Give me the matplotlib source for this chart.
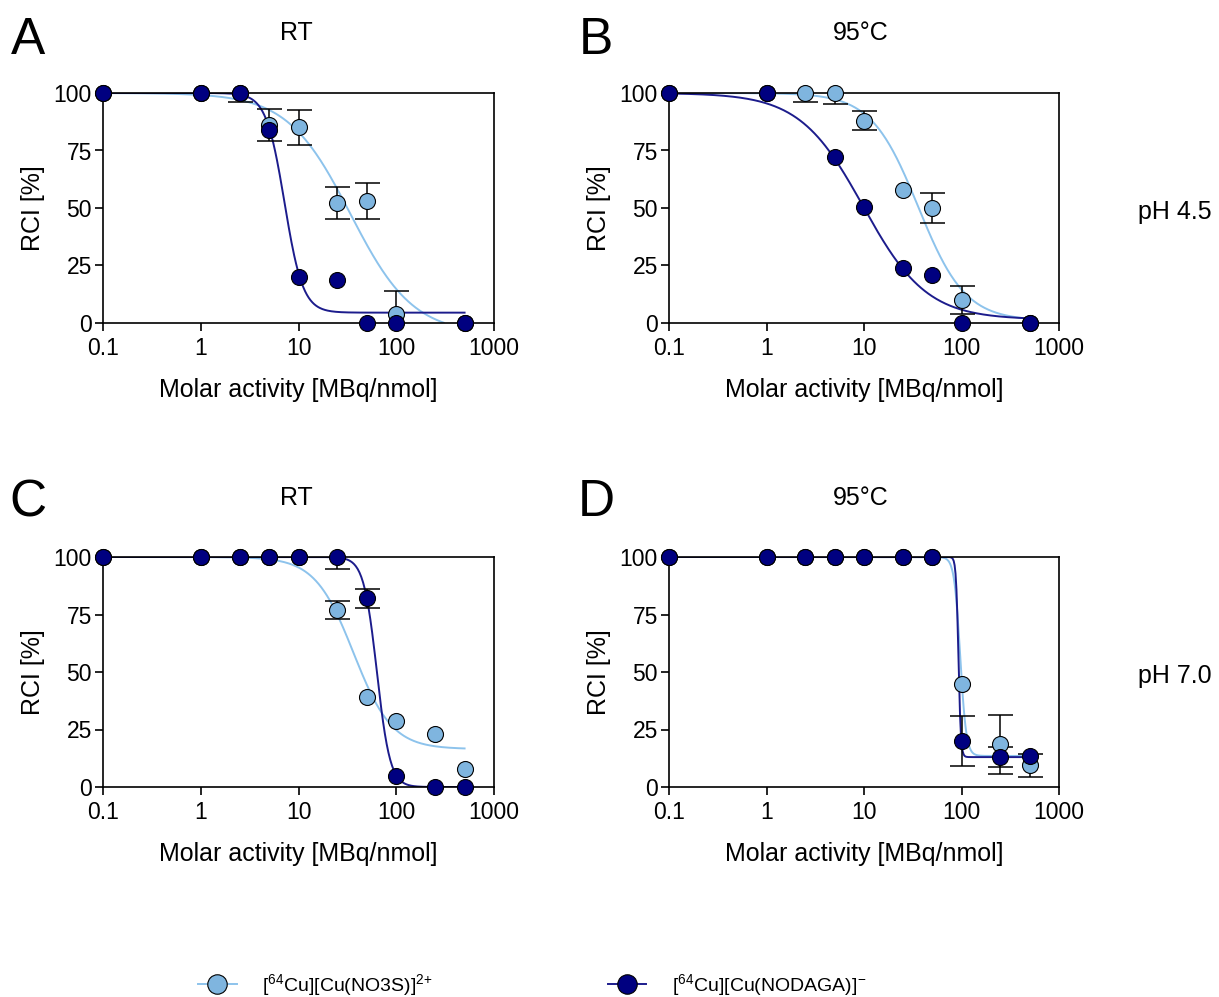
import numpy as np
import matplotlib
matplotlib.use("Agg")
import matplotlib.pyplot as plt
from matplotlib.lines import Line2D

plt.rcParams["font.family"] = ["Liberation Sans", "DejaVu Sans"]
plt.rcParams["mathtext.default"] = "regular"

# molar activity [MBq/nmol]
conc = [0.1, 1, 2.5, 5, 10, 25, 50, 100, 250, 500]
nan = np.nan

# panel A: RT, pH 4.5
a_no3s = [100, 100, 100, 86, 85, 52, 53, 4, nan, 0]
a_no3s_err = [0, 0, 4, 7, 7.5, 7, 8, 10, nan, 0]
a_nodaga = [100, 100, 100, 84, 20, 18.5, 0, 0, nan, 0]
a_nodaga_err = [0, 0, 0, 0, 0, 0, 0, 0, nan, 0]

# panel B: 95°C, pH 4.5
b_no3s = [100, 100, 100, 100, 88, 58, 50, 10, nan, 0]
b_no3s_err = [0, 0, 4, 5, 4.3, 0, 6.5, 6, nan, 0]
b_nodaga = [100, 100, nan, 72, 50.5, 24, 21, 0, nan, 0]
b_nodaga_err = [0, 0, nan, 0, 0, 0, 0, 0, nan, 0]

# panel C: RT, pH 7.0
c_no3s = [100, 100, 100, 100, 100, 77, 39, 28.5, 23, 8]
c_no3s_err = [0, 0, 0, 0, 0, 3.9, 0, 0, 0, 0]
c_nodaga = [100, 100, 100, 100, 100, 100, 82, 5, 0, 0]
c_nodaga_err = [0, 0, 0, 0, 0, 5, 4, 0, 0, 0]

# panel D: 95°C, pH 7.0
d_no3s = [100, 100, 100, 100, 100, 100, 100, 45, 18.5, 9.5]
d_no3s_err = [0, 0, 0, 0, 0, 0, 0, 0, 13, 5]
d_nodaga = [100, 100, 100, 100, 100, 100, 100, 20, 13, 13.5]
d_nodaga_err = [0, 0, 0, 0, 0, 0, 0, 11, 4.5, 0]

# fitted curves (top, bottom, EC50, hill)
a_no3s_fit = (100, -5, 33.9, 1.35)
a_nodaga_fit = (100, 4.5, 7.2, 4.6)
b_no3s_fit = (100, 1, 36, 1.8)
b_nodaga_fit = (100, 1.5, 9.8, 1.33)
c_no3s_fit = (100, 16.5, 36.6, 2.2)
c_nodaga_fit = (100, 0, 63.4, 6.4)
d_no3s_fit = (100, 13.5, 97, 14)
d_nodaga_fit = (100, 13, 93, 35)

light_fill = "#7FB5DF"
light_line = "#8DC3EC"
dark_fill = "#000080"
dark_line = "#1C1C8C"


def logistic(x, top, bottom, ec50, hill):
    return bottom + (top - bottom) / (1 + (x / ec50) ** hill)


def draw_series(ax, y, err, fit, fill, line):
    xs = np.logspace(-1, np.log10(500), 400)
    ys = logistic(xs, *fit)
    ys = np.where(ys < 0, np.nan, ys)
    ax.plot(xs, ys, color=line, lw=1.4, zorder=2)
    # only points that have an error bar
    ex = [c for c, e in zip(conc, err) if e > 0]
    ey = [v for v, e in zip(y, err) if e > 0]
    ee = [e for e in err if e > 0]
    ax.errorbar(ex, ey, yerr=ee, fmt="none", ecolor="black", elinewidth=1.1,
                capsize=9, capthick=1.1, zorder=3)
    ax.plot(conc, y, "o", ms=11.5, mfc=fill, mec="black", mew=0.8,
            ls="none", clip_on=False, zorder=4)


def setup_axes(ax):
    ax.set_xscale("log")
    ax.set_xlim(0.1, 1000)
    ax.set_ylim(0, 100)
    ax.set_xticks([0.1, 1, 10, 100, 1000])
    ax.set_xticklabels(["0.1", "1", "10", "100", "1000"])
    ax.xaxis.set_minor_locator(matplotlib.ticker.NullLocator())
    ax.set_yticks([0, 25, 50, 75, 100])
    ax.tick_params(axis="both", labelsize=16.5, length=6, width=1.2,
                   direction="out", pad=2)
    ax.tick_params(axis="x", pad=4)
    for s in ax.spines.values():
        s.set_linewidth(1.2)
    ax.set_ylabel("RCI [%]", fontsize=18, labelpad=6)
    ax.set_xlabel("Molar activity [MBq/nmol]", fontsize=18, labelpad=13)


fig = plt.figure(figsize=(12.19, 9.97), dpi=100)
W, H = 1219, 997


def add_axes(left, top, right, bottom):
    return fig.add_axes([left / W, 1 - bottom / H, (right - left) / W, (bottom - top) / H])


panels = [
    (add_axes(103, 93, 494, 323), a_no3s, a_no3s_err, a_no3s_fit, a_nodaga, a_nodaga_err, a_nodaga_fit),
    (add_axes(669, 93, 1059, 323), b_no3s, b_no3s_err, b_no3s_fit, b_nodaga, b_nodaga_err, b_nodaga_fit),
    (add_axes(103, 557, 494, 787), c_no3s, c_no3s_err, c_no3s_fit, c_nodaga, c_nodaga_err, c_nodaga_fit),
    (add_axes(669, 557, 1059, 787), d_no3s, d_no3s_err, d_no3s_fit, d_nodaga, d_nodaga_err, d_nodaga_fit),
]

for ax, ly, le, lf, dy, de, df in panels:
    setup_axes(ax)
    draw_series(ax, ly, le, lf, light_fill, light_line)
    draw_series(ax, dy, de, df, dark_fill, dark_line)

for letter, x, y in [("A", 28, 40), ("B", 596, 40), ("C", 28, 503), ("D", 596, 503)]:
    fig.text(x / W, 1 - y / H, letter, fontsize=37, ha="center", va="center")

for title, x, y in [("RT", 296, 33), ("95°C", 861, 33), ("RT", 296, 498), ("95°C", 861, 498)]:
    fig.text(x / W, 1 - y / H, title, fontsize=18, ha="center", va="center")

fig.text(1175 / W, 1 - 212 / H, "pH 4.5", fontsize=18, ha="center", va="center")
fig.text(1175 / W, 1 - 676 / H, "pH 7.0", fontsize=18, ha="center", va="center")

handles = [
    Line2D([], [], color=light_line, lw=1.4, marker="o", ms=14, mfc=light_fill, mec="black", mew=0.8),
    Line2D([], [], color=dark_line, lw=1.4, marker="o", ms=14, mfc=dark_fill, mec="black", mew=0.8),
]
labels = [r"[$^{64}$Cu][Cu(NO3S)]$^{2{+}}$", r"[$^{64}$Cu][Cu(NODAGA)]$^{-}$"]
fig.legend(handles, labels, loc="center", bbox_to_anchor=(532 / W, 1 - 985 / H),
           ncol=2, frameon=False, fontsize=14, handlelength=2.0, handletextpad=1.3,
           columnspacing=9.0)

fig.savefig("out.png", dpi=100)
